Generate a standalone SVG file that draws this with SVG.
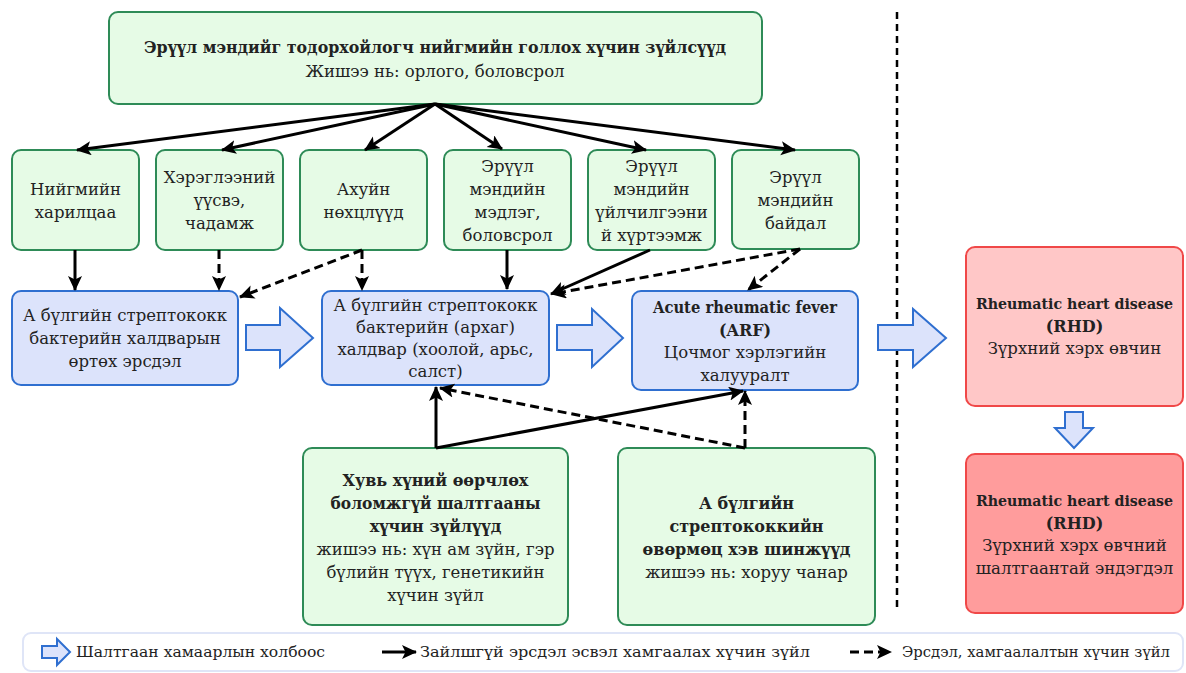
<svg xmlns="http://www.w3.org/2000/svg" width="1186" height="673" viewBox="0 0 1186 673">
<style>
text{font-family:"DejaVu Serif","Liberation Serif",serif;font-size:16.5px;fill:#222;text-anchor:middle}
.b{font-weight:bold;font-size:16px}
.rh{font-weight:bold;font-size:14.2px}
.lg{text-anchor:start;font-size:15px}
.g{fill:#e6fbe6;stroke:#2e8b57;stroke-width:2}
.bl{fill:#dce3fb;stroke:#2f6fd0;stroke-width:2}
.r1{fill:#ffc7c7;stroke:#f04848;stroke-width:2}
.r2{fill:#ff9c9c;stroke:#f04848;stroke-width:2}
.ba{fill:#dce3fb;stroke:#2f6fd0;stroke-width:2;stroke-linejoin:miter}
.s{stroke:#000;stroke-width:3;fill:none;marker-end:url(#ah)}
.d{stroke:#000;stroke-width:3;fill:none;stroke-dasharray:9 5;marker-end:url(#ah)}
</style>
<defs>
<marker id="ah" markerUnits="userSpaceOnUse" markerWidth="17" markerHeight="15" refX="14" refY="7" orient="auto">
<path d="M0,0 L15,7 L0,14 L3.5,7 z" fill="#000"/>
</marker>
</defs>

<line x1="897" y1="12" x2="897" y2="612" stroke="#000" stroke-width="2.5" stroke-dasharray="7 5"/>

<g id="top">
<rect class="g" x="109" y="12" width="653" height="92" rx="9"/>
<text class="b" x="435" y="53" textLength="582" lengthAdjust="spacingAndGlyphs">Эрүүл мэндийг тодорхойлогч нийгмийн голлох хүчин зүйлсүүд</text>
<text x="435" y="77">Жишээ нь: орлого, боловсрол</text>
</g>

<g id="n1"><rect class="g" x="12" y="150" width="127" height="100" rx="9"/>
<text x="75.5" y="195">Нийгмийн</text><text x="75.5" y="218">харилцаа</text></g>
<g id="n2"><rect class="g" x="156" y="150" width="127" height="100" rx="9"/>
<text x="219.5" y="183">Хэрэглээний</text><text x="219.5" y="206">үүсвэ,</text><text x="219.5" y="229">чадамж</text></g>
<g id="n3"><rect class="g" x="300" y="150" width="127" height="100" rx="9"/>
<text x="363.5" y="195">Ахуйн</text><text x="363.5" y="218">нөхцлүүд</text></g>
<g id="n4"><rect class="g" x="444" y="150" width="127" height="100" rx="9"/>
<text x="507.5" y="172">Эрүүл</text><text x="507.5" y="195">мэндийн</text><text x="507.5" y="218">мэдлэг,</text><text x="507.5" y="241">боловсрол</text></g>
<g id="n5"><rect class="g" x="588" y="150" width="127" height="100" rx="9"/>
<text x="651.5" y="172">Эрүүл</text><text x="651.5" y="195">мэндийн</text><text x="651.5" y="218">үйлчилгээни</text><text x="651.5" y="241">й хүртээмж</text></g>
<g id="n6"><rect class="g" x="732" y="150" width="127" height="99" rx="9"/>
<text x="795.5" y="183">Эрүүл</text><text x="795.5" y="206">мэндийн</text><text x="795.5" y="229">байдал</text></g>

<g id="a1"><rect class="bl" x="12" y="291" width="226" height="94" rx="9"/>
<text x="125" y="321">А бүлгийн стрептококк</text><text x="125" y="344">бактерийн халдварын</text><text x="125" y="367">өртөх эрсдэл</text></g>
<g id="a2"><rect class="bl" x="322" y="291" width="227" height="94" rx="9"/>
<text x="435.5" y="311">А бүлгийн стрептококк</text><text x="435.5" y="333">бактерийн (архаг)</text><text x="435.5" y="355">халдвар (хоолой, арьс,</text><text x="435.5" y="377">салст)</text></g>
<g id="a3"><rect class="bl" x="632" y="291" width="226" height="99" rx="9"/>
<text class="b" x="745" y="313" textLength="184" lengthAdjust="spacingAndGlyphs">Acute rheumatic fever</text><text class="b" x="745" y="336">(ARF)</text><text x="745" y="358">Цочмог хэрлэгийн</text><text x="745" y="381">халууралт</text></g>

<g id="rhd1"><rect class="r1" x="966" y="247" width="217" height="159" rx="9"/>
<text class="rh" x="1074.5" y="309">Rheumatic heart disease</text><text class="b" x="1074.5" y="332">(RHD)</text><text x="1074.5" y="354">Зүрхний хэрх өвчин</text></g>
<g id="rhd2"><rect class="r2" x="966" y="454" width="217" height="159" rx="9"/>
<text class="rh" x="1074.5" y="506">Rheumatic heart disease</text><text class="b" x="1074.5" y="529">(RHD)</text><text x="1074.5" y="551">Зүрхний хэрх өвчний</text><text x="1074.5" y="574">шалтгаантай эндэгдэл</text></g>

<g id="f1"><rect class="g" x="303" y="448" width="265" height="177" rx="9"/>
<text class="b" x="435.5" y="486">Хувь хүний өөрчлөх</text><text class="b" x="435.5" y="509" textLength="210" lengthAdjust="spacingAndGlyphs">боломжгүй шалтгааны</text><text class="b" x="435.5" y="532">хүчин зүйлүүд</text><text x="435.5" y="555">жишээ нь: хүн ам зүйн, гэр</text><text x="435.5" y="578">бүлийн түүх, генетикийн</text><text x="435.5" y="601">хүчин зүйл</text></g>
<g id="f2"><rect class="g" x="618" y="448" width="257" height="177" rx="9"/>
<text class="b" x="746.5" y="509">А бүлгийн</text><text class="b" x="746.5" y="532">стрептококкийн</text><text class="b" x="746.5" y="555">өвөрмөц хэв шинжүүд</text><text x="746.5" y="578">жишээ нь: хоруу чанар</text></g>

<g id="block-arrows">
<polygon class="ba" points="246,325 280,325 280,308 313,338 280,367 280,350 246,350"/>
<polygon class="ba" points="557,325 592,325 592,309 623,338 592,367 592,350 557,350"/>
<polygon class="ba" points="878,325 913,325 913,309 946,338 913,367 913,350 878,350"/>
<polygon class="ba" points="1065,412 1083,412 1083,428 1093,428 1074,448 1055,428 1065,428"/>
</g>

<g id="connectors">
<line class="s" x1="435" y1="104" x2="77" y2="150"/>
<line class="s" x1="435" y1="104" x2="222" y2="150"/>
<line class="s" x1="435" y1="104" x2="365" y2="150"/>
<line class="s" x1="435" y1="104" x2="502" y2="149"/>
<line class="s" x1="435" y1="104" x2="646" y2="150"/>
<line class="s" x1="435" y1="104" x2="795" y2="150"/>
<line class="s" x1="75" y1="250" x2="75" y2="290"/>
<line class="d" x1="219" y1="250" x2="219" y2="290"/>
<line class="d" x1="362" y1="250" x2="362" y2="290"/>
<line class="d" x1="362" y1="250" x2="240" y2="297"/>
<line class="s" x1="507" y1="250" x2="507" y2="289"/>
<line class="s" x1="650" y1="250" x2="551" y2="294"/>
<line class="d" x1="800" y1="249" x2="552" y2="294"/>
<line class="d" x1="800" y1="249" x2="748" y2="290"/>
<line class="s" x1="436" y1="448" x2="436" y2="387"/>
<line class="s" x1="436" y1="448" x2="743" y2="391"/>
<line class="d" x1="745" y1="448" x2="745" y2="391"/>
<line class="d" x1="745" y1="448" x2="440" y2="388"/>
</g>

<g id="legend">
<rect x="23" y="633" width="1160" height="38" rx="8" fill="#fff" stroke="#dfe5f7" stroke-width="2"/>
<polygon class="ba" points="42,646 57,646 57,639 70,652 57,665 57,658 42,658"/>
<text class="lg" x="76" y="657" textLength="249" lengthAdjust="spacingAndGlyphs">Шалтгаан хамаарлын холбоос</text>
<line class="s" x1="382" y1="652" x2="416" y2="652"/>
<text class="lg" x="420" y="657" textLength="390" lengthAdjust="spacingAndGlyphs">Зайлшгүй эрсдэл эсвэл хамгаалах хүчин зүйл</text>
<line class="d" x1="850" y1="652" x2="891" y2="652"/>
<text class="lg" x="902" y="657" style="font-size:14px" textLength="268" lengthAdjust="spacingAndGlyphs">Эрсдэл, хамгаалалтын хүчин зүйл</text>
</g>
</svg>
